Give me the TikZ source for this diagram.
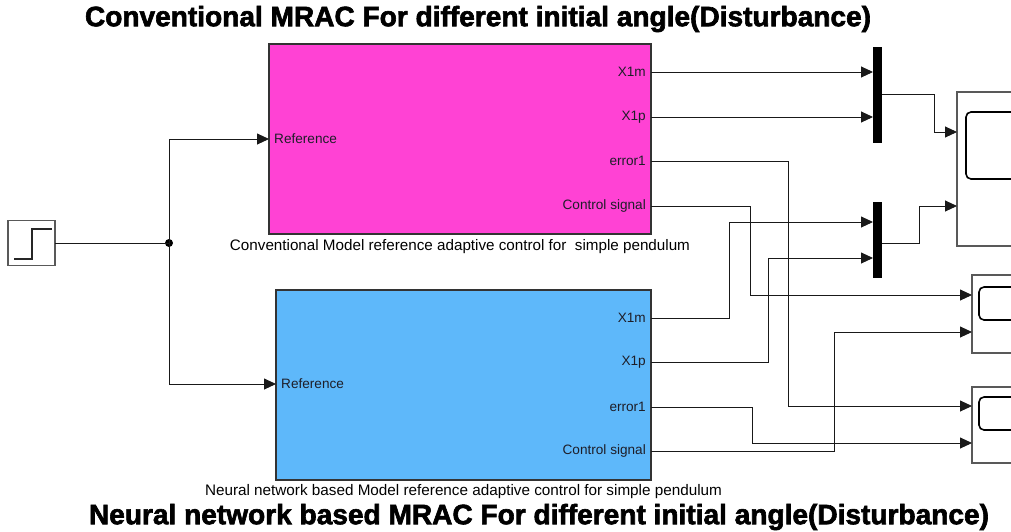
\documentclass[tikz,border=0pt]{standalone}
\usepackage{fontspec}
\setmainfont{Liberation Sans}
\newfontfamily\heavyfont[FakeBold=2.2]{Liberation Sans Bold}
\usetikzlibrary{arrows.meta}
\definecolor{mag}{RGB}{255,66,212}
\definecolor{sky}{RGB}{94,184,250}
\definecolor{ink}{RGB}{30,30,40}
\begin{document}
\begin{tikzpicture}[x=1pt,y=-1pt,
  wire/.style={draw=black!90, line width=0.9pt},
  arr/.style={wire, -{Triangle[length=12pt,width=11pt]}},
  blk/.style={draw=black!80, line width=1.2pt, inner sep=0pt, outer sep=0pt},
  scopebox/.style={draw=black!65, line width=1.3pt, inner sep=0pt, outer sep=0pt},
  screen/.style={draw=black, line width=1.6pt, rounded corners=5pt},
  muxbar/.style={fill=black, draw=none, inner sep=0pt, outer sep=0pt, minimum width=9pt},
  plabel/.style={font=\fontsize{13.6}{15}\selectfont, text=ink, inner sep=0pt},
  caption/.style={font=\fontsize{13}{15}\selectfont, text=black, inner sep=0pt},
  title/.style={font=\heavyfont\fontsize{20}{24}\selectfont, text=black, inner sep=0pt}]
\useasboundingbox (0,0) rectangle (1011,531);
\clip (0,0) rectangle (1011,531);
\fill[white] (0,0) rectangle (1011,531);

% titles
\node[title] (t1) at (478,19) {\resizebox{786pt}{!}{Conventional MRAC For different initial angle(Disturbance)}};
\node[title] (t2) at (539,517) {\resizebox{900pt}{!}{Neural network based MRAC For different initial angle(Disturbance)}};

% main blocks
\node[blk, fill=mag, minimum width=382pt, minimum height=190pt] (mrac1) at (460,139) {};
\node[blk, fill=sky, minimum width=375pt, minimum height=190pt] (mrac2) at (463.5,385) {};
\node[caption] (c1) at (460,247) {\resizebox{460pt}{!}{Conventional Model reference adaptive control for \ simple pendulum}};
\node[caption] (c2) at (463.5,492) {\resizebox{517pt}{!}{Neural network based Model reference adaptive control for simple pendulum}};

% ports of block 1
\coordinate (m1ref) at (269,139);
\coordinate (m1x1m) at (651,72);
\coordinate (m1x1p) at (651,117);
\coordinate (m1err) at (651,161);
\coordinate (m1ctl) at (651,206);
\node[plabel, anchor=west] (l1ref) at (274,139) {Reference};
\node[plabel, anchor=east] (l1a) at (646,72) {X1m};
\node[plabel, anchor=east] (l1b) at (646,117) {X1p};
\node[plabel, anchor=east] (l1c) at (646,161) {error1};
\node[plabel, anchor=east] (l1d) at (646,206) {Control signal};

% ports of block 2
\coordinate (m2ref) at (276,384);
\coordinate (m2x1m) at (651,318);
\coordinate (m2x1p) at (651,362);
\coordinate (m2err) at (651,407);
\coordinate (m2ctl) at (651,451);
\node[plabel, anchor=west] (l2ref) at (281,384) {Reference};
\node[plabel, anchor=east] (l2a) at (646,318) {X1m};
\node[plabel, anchor=east] (l2b) at (646,362) {X1p};
\node[plabel, anchor=east] (l2c) at (646,407) {error1};
\node[plabel, anchor=east] (l2d) at (646,451) {Control signal};

% step source
\node[scopebox, minimum width=47pt, minimum height=45pt] (step) at (31.5,243) {};
\draw[line width=1.3pt, black!85] (14,259) -- (32,259) -- (32,229) -- (52,229);
\coordinate (j) at (169,243);
\fill (j) circle (4pt);

% muxes
\node[muxbar, minimum height=96pt] (mux1) at (877.5,95) {};
\node[muxbar, minimum height=76pt] (mux2) at (877.5,240) {};
\coordinate (mux1in1) at (873,72);
\coordinate (mux1in2) at (873,117);
\coordinate (mux1out) at (882,94);
\coordinate (mux2in1) at (873,222);
\coordinate (mux2in2) at (873,258);
\coordinate (mux2out) at (882,243);

% scopes
\node[scopebox, fill=white, minimum width=90pt, minimum height=154pt] (sc1) at (1002,169) {};
\draw[screen] (966,112) rectangle (1040,179);
\node[scopebox, fill=white, minimum width=90pt, minimum height=78pt] (sc2) at (1017,314) {};
\draw[screen] (979,287) rectangle (1050,320);
\node[scopebox, fill=white, minimum width=90pt, minimum height=76pt] (sc3) at (1017,425) {};
\draw[screen] (979,397) rectangle (1050,430);
\coordinate (s1in1) at (957,132);
\coordinate (s1in2) at (957,206);
\coordinate (s2in1) at (972,295);
\coordinate (s2in2) at (972,332);
\coordinate (s3in1) at (972,406);
\coordinate (s3in2) at (972,443);

% connectors
\draw[wire] (step.east) -- (j);
\draw[arr] (j) |- (m1ref);
\draw[arr] (j) |- (m2ref);

\draw[arr] (m1x1m) -- (mux1in1);
\draw[arr] (m1x1p) -- (mux1in2);
\draw[arr] (m1err) -| (788,300) |- (s3in1);
\draw[arr] (m1ctl) -| (750,250) |- (s2in1);

\draw[arr] (m2x1m) -| (729,270) |- (mux2in1);
\draw[arr] (m2x1p) -| (768,300) |- (mux2in2);
\draw[arr] (m2err) -| (752,420) |- (s3in2);
\draw[arr] (m2ctl) -| (834,400) |- (s2in2);

\draw[arr] (mux1out) -| (934,110) |- (s1in1);
\draw[arr] (mux2out) -| (919,220) |- (s1in2);
\end{tikzpicture}
\end{document}
